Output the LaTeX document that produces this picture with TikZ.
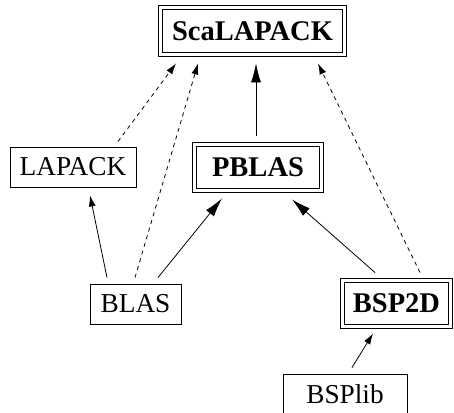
\documentclass[tikz,border=0pt]{standalone}
\usepackage{fontspec}
\setmainfont{Liberation Serif}
\usetikzlibrary{arrows.meta}
\begin{document}
\begin{tikzpicture}[x=1pt,y=1pt,
  box/.style={draw, line width=0.9pt, inner sep=0pt, font=\fontsize{27.3}{32}\selectfont},
  dbox/.style={box, double, double distance=3.8pt, font=\fontsize{28.5}{33}\selectfont\bfseries},
  dep/.style={line width=0.8pt, -{Latex[length=11pt,width=7pt]}},
  bigdep/.style={line width=0.8pt, -{Latex[length=19pt,width=10pt]}},
  dsh/.style={dep, dash pattern=on 4pt off 4pt}]
\useasboundingbox (0,0) rectangle (454,412);
\node[dbox, minimum width=184pt, minimum height=47pt] (scal) at (252.5,381) {ScaLAPACK};
\node[box, minimum width=126pt, minimum height=40pt] (lapack) at (73,245) {LAPACK};
\node[dbox, minimum width=127pt, minimum height=46pt] (pblas) at (258,244.5) {PBLAS};
\node[box, minimum width=91pt, minimum height=40pt] (blas) at (135.5,108) {BLAS};
\node[dbox, minimum width=108pt, minimum height=46pt] (bsp2d) at (396.5,108.5) {BSP2D};
\node[box, minimum width=124pt, minimum height=40pt] (bsplib) at (345,18) {BSPlib};
\draw[dsh] ([shift={(45,5)}]lapack.north) -- ([shift={(-76.5,-8.5)}]scal.south);
\draw[dsh] ([shift={(-0.5,6)}]blas.north) -- ([shift={(-54.5,-8.5)}]scal.south);
\draw[bigdep] ([shift={(-2,8.5)}]pblas.north) -- ([shift={(3.5,-8.5)}]scal.south);
\draw[dsh] ([shift={(23.5,7.5)}]bsp2d.north) -- ([shift={(65.5,-8.5)}]scal.south);
\draw[dep] ([shift={(-28.5,6)}]blas.north) -- ([shift={(17,-8)}]lapack.south);
\draw[bigdep] ([shift={(22.5,6)}]blas.north) -- ([shift={(-36,-7.5)}]pblas.south);
\draw[bigdep] ([shift={(-21.5,7.5)}]bsp2d.north) -- ([shift={(34,-8.5)}]pblas.south);
\draw[dep] ([shift={(7,6)}]bsplib.north) -- ([shift={(-23.5,-6.5)}]bsp2d.south);
\end{tikzpicture}
\end{document}
